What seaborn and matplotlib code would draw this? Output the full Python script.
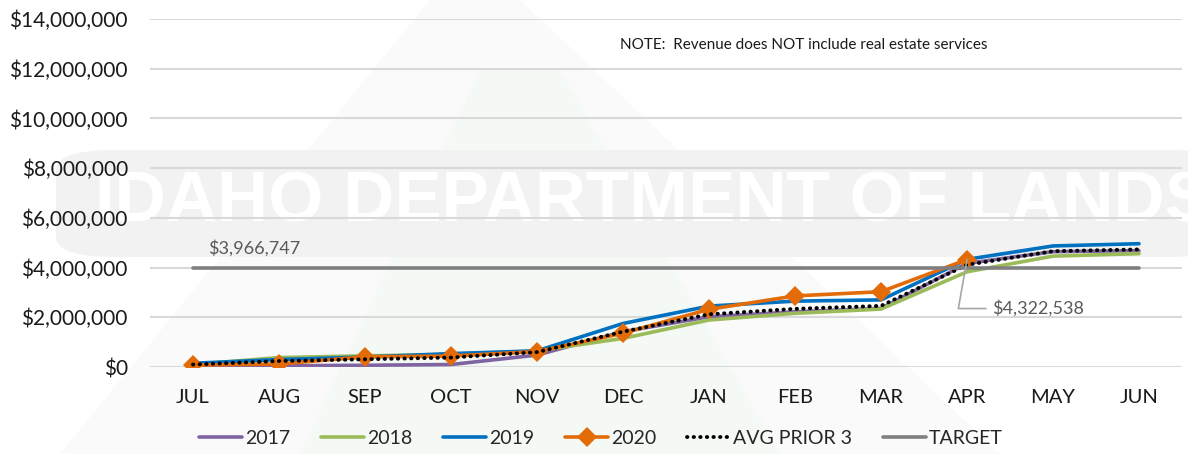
import matplotlib
matplotlib.use("Agg")
import matplotlib.pyplot as plt
import seaborn as sns
import numpy as np
import pandas as pd
from matplotlib.patches import FancyBboxPatch, Polygon

months = ["JUL", "AUG", "SEP", "OCT", "NOV", "DEC", "JAN", "FEB", "MAR", "APR", "MAY", "JUN"]
rev_2017 = [50000, 50000, 70000, 100000, 480000, 1420000, 2020000, 2220000, 2360000, 4170000, 4640000, 4680000]
rev_2018 = [100000, 380000, 450000, 500000, 650000, 1150000, 1890000, 2160000, 2330000, 3830000, 4460000, 4560000]
rev_2019 = [150000, 300000, 400000, 540000, 650000, 1750000, 2450000, 2650000, 2700000, 4330000, 4870000, 4960000]
rev_2020 = [80000, 120000, 410000, 440000, 620000, 1360000, 2320000, 2860000, 3030000, 4322538, np.nan, np.nan]
avg_prior3 = [100000, 240000, 310000, 380000, 600000, 1420000, 2120000, 2340000, 2460000, 4110000, 4660000, 4730000]
target = [3966747] * 12
target_label = "$3,966,747"
apr_label = "$4,322,538"
note_text = "NOTE:  Revenue does NOT include real estate services"
watermark = "IDAHO DEPARTMENT OF LANDS"

sns.set_theme(style="white")
plt.rcParams["font.family"] = ["Lato", "DejaVu Sans"]

W, H = 1188, 454
fig = plt.figure(figsize=(W / 100, H / 100), dpi=100)
fig.patch.set_facecolor("white")

# faint watermark logo shapes (figure coords, pixels -> fraction)
def fp(pts):
    return [(x / W, 1 - y / H) for x, y in pts]

fig.patches.append(Polygon(fp([(60, 454), (430, 0), (520, 0), (1000, 454)]), closed=True,
                           transform=fig.transFigure, facecolor="#fafafa", edgecolor="none", zorder=-3))
fig.patches.append(Polygon(fp([(300, 454), (480, 70), (560, 70), (780, 454)]), closed=True,
                           transform=fig.transFigure, facecolor="#f5f9f5", edgecolor="none", zorder=-2.5))
band = FancyBboxPatch((56 / W, 1 - 257 / H), (W + 40 - 56) / W, 107 / H,
                      boxstyle="round,pad=0,rounding_size=0.05", transform=fig.transFigure,
                      facecolor="#f2f2f2", edgecolor="none", zorder=-2, mutation_aspect=H / W * 2.3)
fig.patches.append(band)
fig.text(95 / W, 1 - 203 / H, watermark, transform=fig.transFigure, family="Liberation Sans",
         fontweight="bold", fontsize=51, color="white", va="center", ha="left", zorder=-1)

ax = fig.add_axes([150 / W, 1 - 367 / H, (1182 - 150) / W, (367 - 19) / H])
ax.patch.set_alpha(0)

df = pd.DataFrame({
    "month": months * 6,
    "value": rev_2017 + rev_2018 + rev_2019 + rev_2020 + avg_prior3 + target,
    "series": ["2017"] * 12 + ["2018"] * 12 + ["2019"] * 12 + ["2020"] * 12
              + ["AVG PRIOR 3"] * 12 + ["TARGET"] * 12,
})
df["x"] = df["month"].map({m: i for i, m in enumerate(months)})

styles = {
    "2017": dict(color="#8064a2", lw=2.6),
    "2018": dict(color="#9bbb59", lw=2.6),
    "2019": dict(color="#0070c0", lw=2.6),
    "2020": dict(color="#e36c09", lw=2.6, marker="D", markersize=10, markeredgewidth=0),
    "AVG PRIOR 3": dict(color="black", lw=2.8, linestyle=(0, (0.1, 1.6)), dash_capstyle="round"),
    "TARGET": dict(color="#7f7f7f", lw=2.6),
}
for name, st in styles.items():
    sub = df[df["series"] == name].dropna()
    sns.lineplot(data=sub, x="x", y="value", ax=ax, label=name, estimator=None, sort=False, **st)

ax.set_xlim(-0.5, len(months) - 0.5)
ax.set_ylim(0, 14000000)
ax.set_yticks(np.arange(0, 14000001, 2000000))
ax.set_yticklabels([f"${v:,.0f}" for v in ax.get_yticks()])
ax.set_xticks(range(len(months)))
ax.set_xticklabels(months)
ax.set_xlabel("")
ax.set_ylabel("")
ax.tick_params(axis="both", length=0, labelsize=14.5, labelcolor="#1a1a1a")
ax.tick_params(axis="y", labelsize=15, pad=16)
ax.tick_params(axis="x", pad=16)
ax.grid(axis="y", color="#d9d9d9", lw=1.5)
ax.set_axisbelow(True)
for s in ax.spines.values():
    s.set_visible(False)

# data labels
ax.annotate(target_label, xy=(0, target[0]), xytext=(15, 20), textcoords="offset pixels",
            fontsize=13, color="#595959", ha="left", va="center")
apr_i = months.index("APR")
ax.annotate(apr_label, xy=(apr_i, rev_2020[apr_i]), xytext=(25, -49), textcoords="offset pixels",
            fontsize=13, color="#595959", ha="left", va="center",
            arrowprops=dict(arrowstyle="-", color="#a6a6a6", lw=1.2,
                            connectionstyle="angle,angleA=0,angleB=80,rad=0",
                            shrinkA=2, shrinkB=0))
fig.text(620 / W, 1 - 45 / H, note_text, fontsize=11, color="#1a1a1a", ha="left", va="center")

ax.legend_.remove()
handles, labels = ax.get_legend_handles_labels()
fig.legend(handles, labels, loc="center", bbox_to_anchor=(601 / W, 1 - 438 / H), ncol=6,
           frameon=False, fontsize=14, handlelength=2.2, handletextpad=0.15, columnspacing=1.6)

fig.savefig("out.png", dpi=100)
